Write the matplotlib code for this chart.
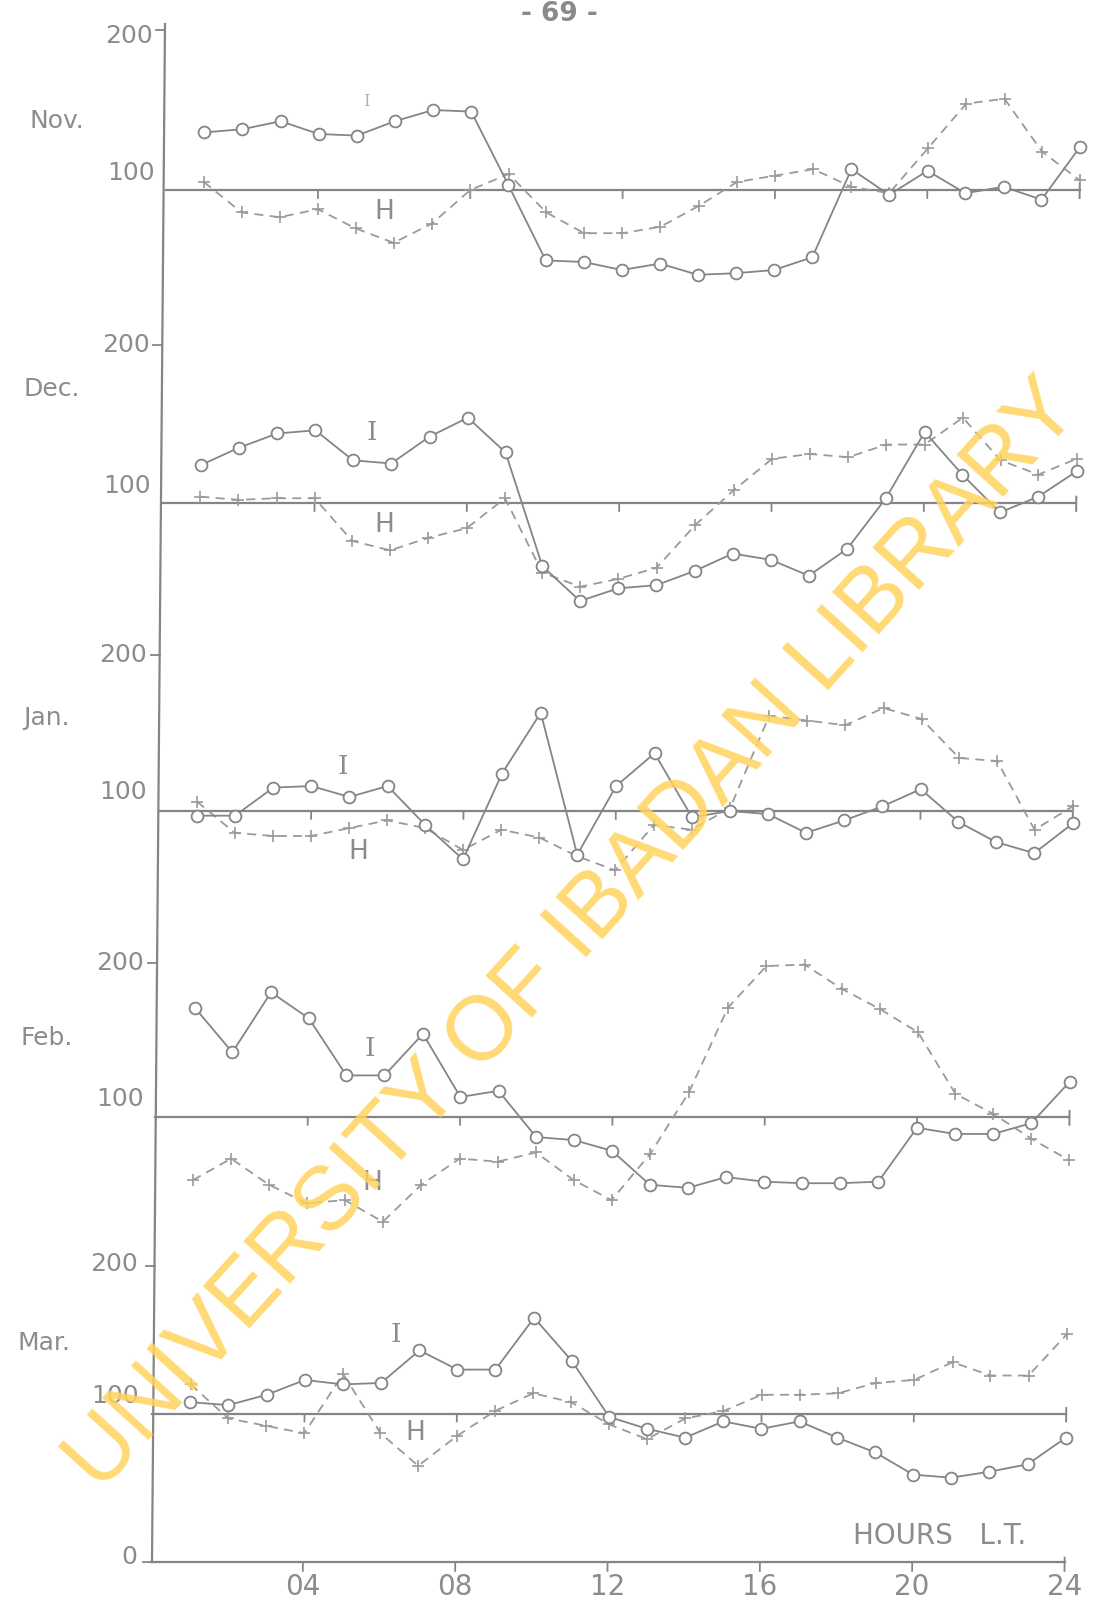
import numpy as np
import matplotlib
matplotlib.use("Agg")
import matplotlib.pyplot as plt
from matplotlib.transforms import Affine2D

# hourly values (local time 01..24) of I (circles) and H (crosses), % of mean
HOURS = np.arange(1, 25)
MONTHS = ["Nov.", "Dec.", "Jan.", "Feb.", "Mar."]

nov_I = [136, 138, 143, 135, 134, 143, 150, 149, 103, 56, 55, 50,
         54, 47, 48, 50, 58, 113, 97, 112, 98, 102, 94, 127]
nov_H = [105, 86, 83, 88, 76, 67, 79, 100, 110, 86, 73, 73,
         77, 90, 105, 109, 113, 102, 98, 126, 154, 157, 124, 106]

dec_I = [124, 135, 144, 146, 127, 125, 142, 154, 132, 60, 38, 46,
         48, 57, 68, 64, 54, 71, 103, 145, 118, 94, 104, 120]
dec_H = [104, 102, 103, 103, 76, 70, 78, 84, 103, 56, 47, 52,
         59, 86, 108, 128, 131, 129, 137, 137, 154, 127, 118, 128]

jan_I = [97, 97, 115, 116, 109, 116, 91, 69, 124, 163, 72, 116,
         137, 96, 100, 98, 86, 94, 103, 114, 93, 80, 73, 92]
jan_H = [106, 86, 84, 84, 89, 94, 89, 75, 88, 83, 71, 62,
         91, 88, 102, 161, 158, 155, 166, 159, 134, 132, 88, 103]

feb_I = [171, 142, 181, 164, 127, 127, 154, 113, 117, 87, 85, 78,
         56, 54, 61, 58, 57, 57, 58, 93, 89, 89, 96, 123]
feb_H = [59, 73, 56, 44, 46, 32, 56, 73, 71, 77, 59, 46,
         76, 116, 171, 198, 199, 183, 170, 155, 115, 102, 86, 72]

mar_I = [108, 106, 113, 123, 120, 121, 143, 130, 130, 165, 136, 98,
         90, 84, 95, 90, 95, 84, 74, 59, 57, 61, 66, 84]
mar_H = [120, 97, 92, 87, 127, 87, 65, 85, 102, 114, 108, 93,
         83, 97, 102, 113, 113, 114, 121, 123, 135, 126, 126, 154]

SERIES_I = [nov_I, dec_I, jan_I, feb_I, mar_I]
SERIES_H = [nov_H, dec_H, jan_H, feb_H, mar_H]
HOUR_TICKS = [4, 8, 12, 16, 20, 24]
HOUR_LABELS = ["04", "08", "12", "16", "20", "24"]

# page layout in pixels (from top), one stacked panel per month
W, H = 1102, 1614
X0_PX, X24_PX = 150, 1064
BASE_PX = [190, 503, 811, 1117, 1414]          # row of the 100 line
PX_PER_UNIT = [1.60, 1.58, 1.56, 1.54, 1.48]
LO, HI = -25, 215

MONTH_XY = [(57, 121), (52, 389), (47, 718), (47, 1038), (44, 1343)]
Y200_XY = [(129, 36), (126, 345), (123, 655), (120, 963), (114, 1264)]
Y100_XY = [(131, 173), (127, 486), (123, 792), (120, 1099), (115, 1396)]
I_XY = [(366, 101), (372, 432), (343, 767), (370, 1049), (396, 1335)]
H_XY = [(384, 212), (384, 525), (358, 852), (372, 1183), (415, 1433)]

INK = "#858585"
INK_H = "#9a9a9a"
TXT = "#8c8c8c"

fig = plt.figure(figsize=(W / 100, H / 100), dpi=100)
fig.patch.set_facecolor("white")
skew = Affine2D().skew(np.arctan(0.011), 0)

for i in range(5):
    s, base = PX_PER_UNIT[i], BASE_PX[i]
    bot = base + (100 - LO) * s
    top = base - (HI - 100) * s
    ax = fig.add_axes([X0_PX / W, 1 - bot / H, (X24_PX - X0_PX) / W, (bot - top) / H])
    ax.set_xlim(0, 24)
    ax.set_ylim(LO, HI)
    ax.axis("off")
    tr = ax.transData + skew
    kw = dict(transform=tr, clip_on=False)

    # zero-deviation line with hour ticks
    ax.plot([0, 24], [100, 100], color=INK, lw=1.6, **kw)
    for h in HOUR_TICKS[:-1]:
        ax.plot([h, h], [100, 100 - 5], color=INK, lw=1.3, **kw)
    ax.plot([24, 24], [104, 95], color=INK, lw=1.4, **kw)

    ax.plot(HOURS, SERIES_H[i], color=INK_H, lw=1.3, ls=(0, (5, 3.5)),
            marker="+", ms=8, mew=1.2, zorder=3, **kw)
    ax.plot(HOURS, SERIES_I[i], color=INK, lw=1.3, marker="o", ms=8.5,
            mfc="white", mec=INK, mew=1.3, zorder=4, **kw)

    if i == 4:
        ax.plot([0, 24], [0, 0], color=INK, lw=1.6, **kw)
        for h, lab in zip(HOUR_TICKS, HOUR_LABELS):
            ax.plot([h, h], [3 if h == 24 else 0, -6], color=INK, lw=1.3, **kw)
            ax.text(h, -17, lab, ha="center", va="center", fontsize=20,
                    color=TXT, transform=tr)

# labels, left axis and page furniture in pixel coordinates
tx = fig.add_axes([0, 0, 1, 1])
tx.set_xlim(0, W)
tx.set_ylim(H, 0)
tx.axis("off")

# the hand-ruled left axis leans a little less than the plotted grid
tx.plot([165, 152], [24, 1562], color=INK, lw=1.6)
for i in range(5):
    y200 = BASE_PX[i] - 100 * PX_PER_UNIT[i]
    xs = 165 - 13 * (y200 - 24) / (1562 - 24)
    tx.plot([xs - 9, xs], [y200, y200], color=INK, lw=1.3)
tx.plot([143, 152], [1562, 1562], color=INK, lw=1.3)

for i in range(5):
    tx.text(*MONTH_XY[i], MONTHS[i], ha="center", va="center", fontsize=18, color=TXT)
    tx.text(*Y200_XY[i], "200", ha="center", va="center", fontsize=18, color=TXT)
    tx.text(*Y100_XY[i], "100", ha="center", va="center", fontsize=18, color=TXT)
    tx.text(*I_XY[i], "I", ha="center", va="center", fontsize=19 if i else 12,
            color=TXT if i else "#b0b0b0", family="DejaVu Serif")
    tx.text(*H_XY[i], "H", ha="center", va="center", fontsize=19, color=TXT)
tx.text(129, 1557, "0", ha="center", va="center", fontsize=18, color=TXT)
tx.text(940, 1536, "HOURS   L.T.", ha="center", va="center", fontsize=20, color=TXT)
tx.text(559, 14, "- 69 -", ha="center", va="center", fontsize=19,
        fontweight="bold", color="#8a8a8a")

tx.text(574, 936, "UNIVERSITY OF IBADAN LIBRARY", ha="center", va="center",
        rotation=47.8, rotation_mode="anchor", fontsize=65,
        family="Liberation Sans", color="#FFD35C", alpha=0.85, zorder=10)

fig.savefig("out.png", dpi=100)
